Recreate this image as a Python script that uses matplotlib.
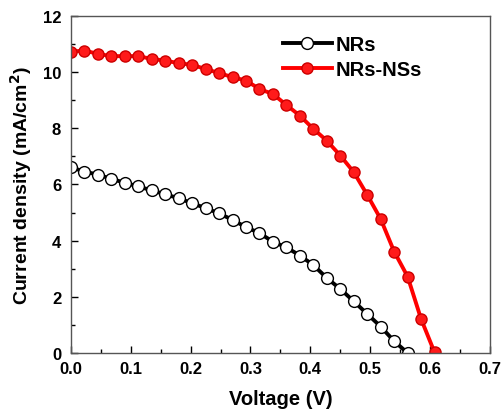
import matplotlib
matplotlib.use('Agg')
import matplotlib.pyplot as plt
from matplotlib.ticker import MultipleLocator

step = 0.0225
nrs_j = [6.61, 6.46, 6.35, 6.20, 6.06, 5.93, 5.79, 5.65, 5.51, 5.33, 5.16, 4.97, 4.74,
         4.48, 4.27, 3.96, 3.76, 3.47, 3.13, 2.67, 2.28, 1.84, 1.39, 0.94, 0.42, 0.0]
nsn_j = [10.73, 10.77, 10.65, 10.57, 10.57, 10.57, 10.47, 10.41, 10.32, 10.26, 10.11,
         9.97, 9.82, 9.70, 9.40, 9.22, 8.83, 8.45, 7.98, 7.56, 7.03, 6.44, 5.63, 4.77,
         3.61, 2.72, 1.21, 0.02]
nrs_v = [i * step for i in range(len(nrs_j))]
nsn_v = [i * step for i in range(len(nsn_j))]

plt.rcParams['font.family'] = ['Liberation Sans', 'DejaVu Sans']
plt.rcParams['font.weight'] = 'bold'

fig = plt.figure(figsize=(5.03, 4.14), dpi=100)
ax = fig.add_axes([0.141, 0.145, 0.833, 0.814])

ax.plot(nrs_v, nrs_j, color='black', lw=2.8, marker='o', ms=8.5,
        mfc='white', mec='black', mew=1.0, label='NRs')
ax.plot(nsn_v, nsn_j, color='red', lw=2.8, marker='o', ms=8,
        mfc='#ff1a1a', mec='#cc0000', mew=1.0, label='NRs-NSs')

ax.set_xlim(0, 0.7)
ax.set_ylim(0, 12)
ax.xaxis.set_major_locator(MultipleLocator(0.1))
ax.xaxis.set_minor_locator(MultipleLocator(0.05))
ax.yaxis.set_major_locator(MultipleLocator(2))
ax.yaxis.set_minor_locator(MultipleLocator(1))
ax.tick_params(which='both', direction='in', top=False, right=False, labelsize=12)
ax.tick_params(which='major', length=5, width=1)
ax.tick_params(which='minor', length=3, width=1)
ax.tick_params(axis='x', pad=6)
ax.tick_params(axis='y', pad=7)
for s in ax.spines.values():
    s.set_linewidth(1.0)
    s.set_color('#555555')

ax.set_xlabel('Voltage (V)', fontsize=14.5, fontweight='bold', labelpad=9)
ax.set_ylabel('Current density (mA/cm$^\\mathbf{2}$)', fontsize=14, fontweight='bold',
              labelpad=6)

leg = ax.legend(loc='upper right', bbox_to_anchor=(0.881, 0.997), frameon=False,
                prop={'size': 14.5, 'weight': 'bold'}, handlelength=2.4,
                handletextpad=0.2, labelspacing=0.3)

fig.savefig('out.png', dpi=100)
